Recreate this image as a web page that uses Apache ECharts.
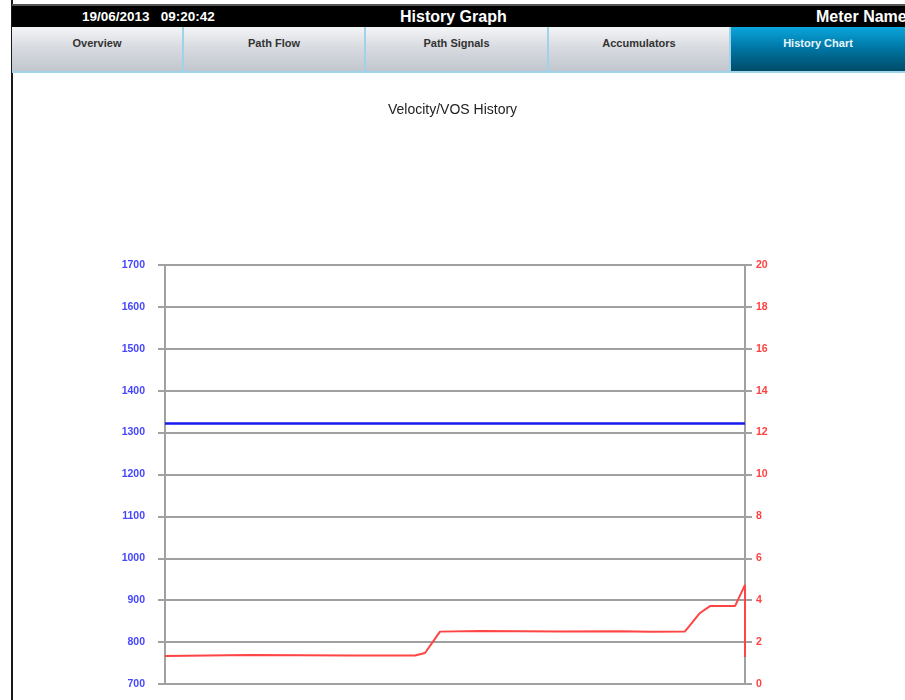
<!DOCTYPE html>
<html>
<head>
<meta charset="utf-8">
<script src="https://cdn.jsdelivr.net/npm/echarts@6/dist/echarts.min.js"></script>
<style>
html,body{margin:0;padding:0;width:905px;height:700px;overflow:hidden;background:#fff;font-family:"Liberation Sans",Arial,sans-serif;}
#chart{position:absolute;left:0;top:0;width:905px;height:700px;}
#border{position:absolute;left:11px;top:0;width:2px;height:700px;background:#1a1a1a;}
#topbar{position:absolute;left:12px;top:4px;width:893px;height:23px;background:#000;border-top:2px solid #555;box-sizing:border-box;color:#fff;font-weight:bold;overflow:hidden;}
#topbar span{position:absolute;top:2px;white-space:nowrap;}
#tabs{position:absolute;left:12px;top:27px;width:893px;height:46px;border-bottom:2px solid #9fd3ea;box-sizing:border-box;}
.tab{position:absolute;top:0;height:44px;background:linear-gradient(#f4f5f7,#d8dbe0 45%,#c2c7cf);border-right:2px solid #9fd3ea;box-sizing:border-box;text-align:center;font-size:11px;font-weight:bold;color:#333;padding-top:10px;}
.tab.active{background:linear-gradient(#0ba6dc,#0079a8 45%,#004b68);color:#e8f6fc;border-right:none;}
</style>
</head>
<body>
<div id="chart"></div>
<div id="border"></div>
<div id="topbar">
  <span style="left:70px;font-size:13.5px;top:3px;">19/06/2013&nbsp;&nbsp;&nbsp;09:20:42</span>
  <span style="left:388px;font-size:16px;top:2px;">History Graph</span>
  <span style="left:804px;font-size:16px;top:2px;">Meter Name</span>
</div>
<div id="tabs">
  <div class="tab" style="left:0;width:172px;">Overview</div>
  <div class="tab" style="left:172px;width:182px;">Path Flow</div>
  <div class="tab" style="left:354px;width:183px;">Path Signals</div>
  <div class="tab" style="left:537px;width:182px;">Accumulators</div>
  <div class="tab active" style="left:719px;width:174px;">History Chart</div>
</div>
<script>
// Data
const title = "Velocity/VOS History";
const leftTicks = {min: 700, max: 1700, interval: 100};
const rightTicks = {min: 0, max: 20, interval: 2};
// sample index (x) and values
const vosX =   [0, 58, 116];
const vosY =   [1322, 1322, 1322];
const velX =   [0, 17, 37, 50, 52, 55, 63, 79, 91, 97, 104, 107, 109, 114, 116, 116];
const velY =   [1.34, 1.38, 1.36, 1.36, 1.48, 2.50, 2.53, 2.51, 2.52, 2.49, 2.51, 3.39, 3.72, 3.72, 4.73, 1.29];

const chart = echarts.init(document.getElementById('chart'));
const gridColor = '#a0a0a0';
chart.setOption({
  animation: false,
  title: {
    text: title, left: 'center', top: 98,
    textStyle: {fontFamily: 'Liberation Sans', fontSize: 14, fontWeight: 'normal', color: '#222'}
  },
  grid: {left: 165, right: 160, top: 265, bottom: 16},
  xAxis: {
    type: 'value', min: 0, max: 116,
    axisLine: {show: true, lineStyle: {color: gridColor, width: 2}},
    axisTick: {show: false}, axisLabel: {show: false}, splitLine: {show: false}
  },
  yAxis: [
    {
      type: 'value', position: 'left', min: leftTicks.min, max: leftTicks.max, interval: leftTicks.interval,
      axisLine: {show: true, lineStyle: {color: gridColor, width: 2}},
      axisTick: {show: true, length: 7, lineStyle: {color: gridColor, width: 2}},
      axisLabel: {margin: 20, color: '#4646ff', fontSize: 10.5, fontWeight: 'bold', fontFamily: 'Liberation Sans', formatter: v => String(v)},
      splitLine: {show: true, lineStyle: {color: gridColor, width: 2}}
    },
    {
      type: 'value', position: 'right', min: rightTicks.min, max: rightTicks.max, interval: rightTicks.interval,
      axisLine: {show: true, lineStyle: {color: gridColor, width: 2}},
      axisTick: {show: true, length: 7, lineStyle: {color: gridColor, width: 2}},
      axisLabel: {margin: 11, color: '#ff4040', fontSize: 10.5, fontWeight: 'bold', fontFamily: 'Liberation Sans', formatter: v => String(v)},
      splitLine: {show: false}
    }
  ],
  series: [
    {
      type: 'line', yAxisIndex: 0, showSymbol: false, symbol: 'none',
      data: vosX.map((x, i) => [x, vosY[i]]),
      lineStyle: {color: '#1a1aee', width: 2.5}
    },
    {
      type: 'line', yAxisIndex: 1, showSymbol: false, symbol: 'none',
      data: velX.map((x, i) => [x, velY[i]]),
      lineStyle: {color: '#ff4444', width: 2}
    }
  ]
});
</script>
</body>
</html>
